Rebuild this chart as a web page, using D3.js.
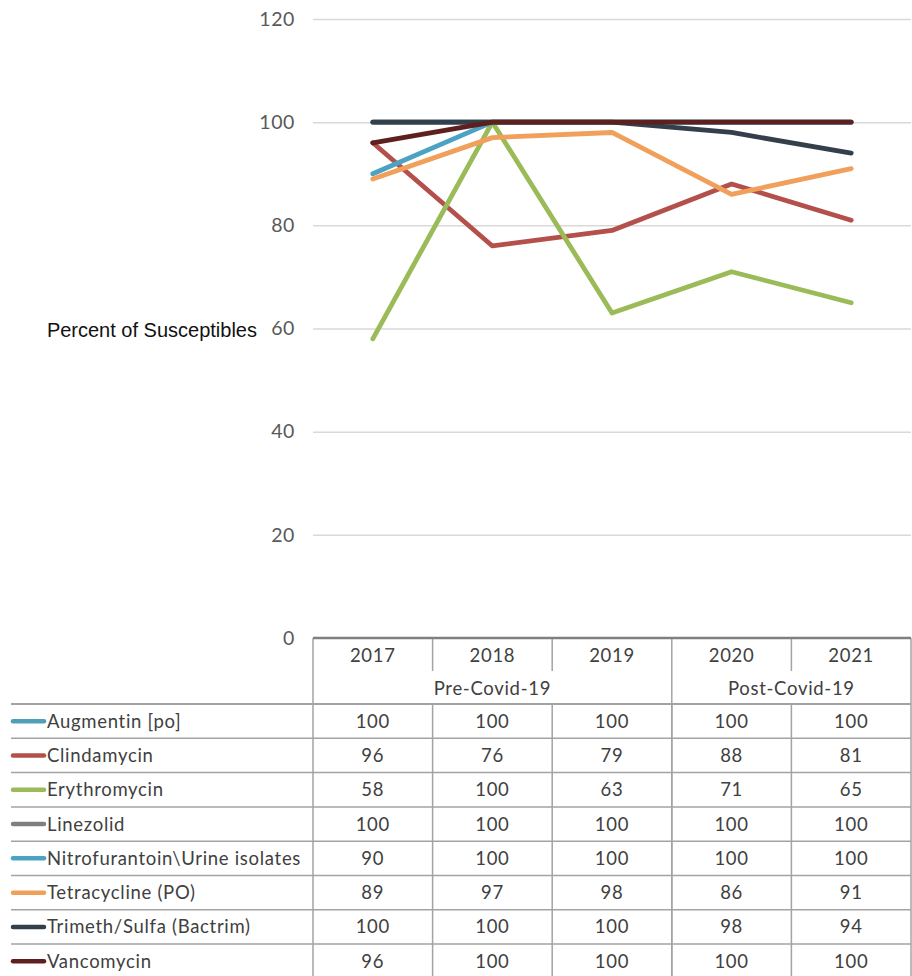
<!DOCTYPE html>
<html>
<head>
<meta charset="utf-8">
<script src="https://cdn.jsdelivr.net/npm/d3@7"></script>
<style>
  html, body { margin: 0; padding: 0; background: #fff; }
  svg { display: block; }
</style>
</head>
<body>
<div id="chart"></div>
<script>
// Susceptibility (%) by year, one series per antibiotic
const years = ["2017", "2018", "2019", "2020", "2021"];
const periods = [
  { label: "Pre-Covid-19", from: "2017", to: "2019" },
  { label: "Post-Covid-19", from: "2020", to: "2021" }
];
const drugs = [
  "Augmentin [po]",
  "Clindamycin",
  "Erythromycin",
  "Linezolid",
  "Nitrofurantoin\\Urine isolates",
  "Tetracycline (PO)",
  "Trimeth/Sulfa (Bactrim)",
  "Vancomycin"
];
const augmentin      = [100, 100, 100, 100, 100];
const clindamycin    = [96, 76, 79, 88, 81];
const erythromycin   = [58, 100, 63, 71, 65];
const linezolid      = [100, 100, 100, 100, 100];
const nitrofurantoin = [90, 100, 100, 100, 100];
const tetracycline   = [89, 97, 98, 86, 91];
const trimethSulfa   = [100, 100, 100, 98, 94];
const vancomycin     = [96, 100, 100, 100, 100];
const seriesValues = [augmentin, clindamycin, erythromycin, linezolid,
                      nitrofurantoin, tetracycline, trimethSulfa, vancomycin];
const colors = ["#4f9fb8", "#b4504b", "#9bbb59", "#7f7f7f",
                "#4ba3c3", "#f0a05a", "#333f4a", "#5e1f1f"];
const yTicks = [0, 20, 40, 60, 80, 100, 120];
const yTitle = "Percent of Susceptibles";

const W = 912, H = 976;
const svg = d3.select("#chart").append("svg")
  .attr("width", W).attr("height", H);

const tableLeft = 313, tableRight = 911, legendLeft = 11;
const x = d3.scaleBand().domain(years).range([tableLeft, tableRight]).padding(0);
const y = d3.scaleLinear().domain([0, 120]).range([638, 19]);
const cx = d => x(d) + x.bandwidth() / 2;

const labelFont = "Lato, 'Open Sans', sans-serif";
const cellSize = 18.5, cellSpacing = 0.7;
const gridColor = "#d9d9d9";
const borderColor = "#a3a3a3";
const textColor = "#404040";

// Horizontal gridlines and value axis labels
const yAxis = d3.axisLeft(y).tickValues(yTicks).tickSize(-(tableRight - tableLeft)).tickPadding(18);
const gAxis = svg.append("g").attr("transform", `translate(${tableLeft},0)`).call(yAxis);
gAxis.select(".domain").remove();
gAxis.selectAll(".tick line")
  .attr("stroke", gridColor).attr("stroke-width", 1.5)
  .attr("display", d => d === 0 ? "none" : null);
gAxis.selectAll(".tick text")
  .attr("fill", "#595959").attr("font-family", labelFont)
  .attr("font-size", 19.5).attr("letter-spacing", 0.6);

svg.append("text")
  .attr("x", 257).attr("y", y(60) + 8)
  .attr("text-anchor", "end")
  .attr("font-family", "'Liberation Sans', Arial, sans-serif")
  .attr("font-size", 20).attr("fill", "#111")
  .text(yTitle);

// Series lines
const line = d3.line().x((d, i) => cx(years[i])).y(d => y(d));
svg.append("g").selectAll("path").data(seriesValues).join("path")
  .attr("d", line)
  .attr("fill", "none")
  .attr("stroke", (d, i) => colors[i])
  .attr("stroke-width", 4.8)
  .attr("stroke-linejoin", "round")
  .attr("stroke-linecap", "round");

// Data table beneath the plot
const rowTop = 704, rowH = 34.3;
const headerTop = y(0);
const tbl = svg.append("g");

const styleCell = sel => sel
  .attr("font-family", labelFont).attr("font-size", cellSize)
  .attr("letter-spacing", cellSpacing).attr("fill", textColor);

// Year header cells
tbl.selectAll("text.year").data(years).join("text")
  .attr("class", "year")
  .attr("x", d => cx(d)).attr("y", headerTop + 24)
  .attr("text-anchor", "middle")
  .call(styleCell)
  .text(d => d);

// Period header cells
tbl.selectAll("text.period").data(periods).join("text")
  .attr("class", "period")
  .attr("x", d => (x(d.from) + x(d.to) + x.bandwidth()) / 2).attr("y", headerTop + 57)
  .attr("text-anchor", "middle")
  .call(styleCell)
  .text(d => d.label);

// Header borders
const yearDividers = years.slice(1).filter(yr => !periods.some(p => p.from === yr));
tbl.selectAll("line.ydiv").data(yearDividers).join("line")
  .attr("class", "ydiv")
  .attr("x1", d => x(d)).attr("x2", d => x(d))
  .attr("y1", headerTop).attr("y2", headerTop + 33)
  .attr("stroke", borderColor).attr("stroke-width", 1.5);
const periodEdges = periods.map(p => x(p.from)).concat([tableRight]);
tbl.selectAll("line.pdiv").data(periodEdges).join("line")
  .attr("class", "pdiv")
  .attr("x1", d => d).attr("x2", d => d)
  .attr("y1", headerTop).attr("y2", H)
  .attr("stroke", borderColor).attr("stroke-width", 1.5);

// Data row cells: vertical dividers between years
tbl.selectAll("line.cdiv").data(years.slice(1)).join("line")
  .attr("class", "cdiv")
  .attr("x1", d => x(d)).attr("x2", d => x(d))
  .attr("y1", rowTop).attr("y2", H)
  .attr("stroke", borderColor).attr("stroke-width", 1.5);

// Horizontal row borders
const rowLines = d3.range(drugs.length + 1).map(i => rowTop + i * rowH);
tbl.selectAll("line.row").data(rowLines).join("line")
  .attr("class", "row")
  .attr("x1", legendLeft).attr("x2", tableRight)
  .attr("y1", d => d).attr("y2", d => d)
  .attr("stroke", borderColor).attr("stroke-width", (d, i) => i === 0 ? 2.2 : 1.5);

// Top edge of table (category axis)
tbl.append("line")
  .attr("x1", tableLeft).attr("x2", tableRight)
  .attr("y1", headerTop).attr("y2", headerTop)
  .attr("stroke", "#7f7f7f").attr("stroke-width", 2.5);

// Rows: legend key, series name, values
const rows = tbl.selectAll("g.datarow").data(drugs).join("g")
  .attr("class", "datarow")
  .attr("transform", (d, i) => `translate(0,${rowTop + i * rowH + rowH / 2})`);
rows.append("line")
  .attr("x1", legendLeft + 2).attr("x2", 44)
  .attr("y1", 0).attr("y2", 0)
  .attr("stroke", (d, i) => colors[i]).attr("stroke-width", 4.5)
  .attr("stroke-linecap", "round");
rows.append("text")
  .attr("x", 47).attr("y", 6.5)
  .call(styleCell)
  .text(d => d);
rows.each(function(d, i) {
  d3.select(this).selectAll("text.val").data(seriesValues[i]).join("text")
    .attr("class", "val")
    .attr("x", (v, j) => cx(years[j])).attr("y", 6.5)
    .attr("text-anchor", "middle")
    .call(styleCell)
    .text(v => v);
});
</script>
</body>
</html>
